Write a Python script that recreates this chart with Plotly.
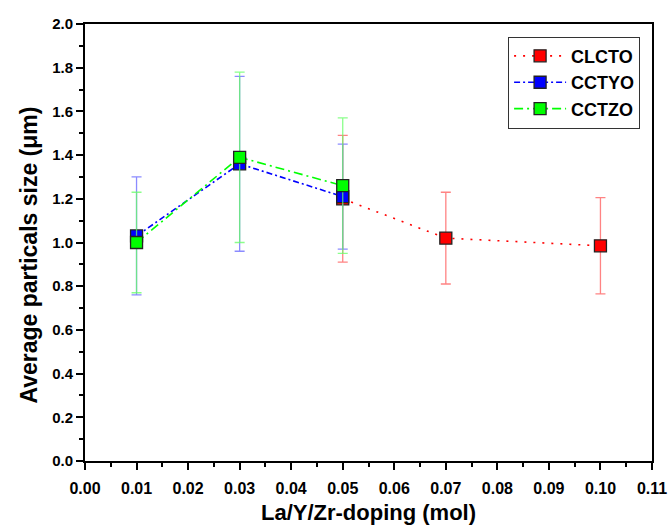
import plotly.graph_objects as go

# Doping level (mol) and average particle size (um) with error bars
x_clcto = [0.05, 0.07, 0.10]
y_clcto = [1.20, 1.02, 0.985]
err_clcto = [0.29, 0.21, 0.22]

x_cctyo = [0.01, 0.03, 0.05]
y_cctyo = [1.03, 1.36, 1.21]
err_cctyo = [0.27, 0.40, 0.24]

x_cctzo = [0.01, 0.03, 0.05]
y_cctzo = [1.00, 1.39, 1.26]
err_cctzo = [0.23, 0.39, 0.31]

x_ticks = [i / 100 for i in range(0, 12)]
x_ticklabels = [f"{v:.2f}" for v in x_ticks]
y_ticks = [i / 10 for i in range(0, 21, 2)]
y_ticklabels = [f"{v:.1f}" for v in y_ticks]

FONT = "Liberation Sans, Arial, sans-serif"

series = [
    ("CLCTO", x_clcto, y_clcto, err_clcto, "#ff0000", "rgba(255,90,90,0.75)", "2px,7px"),
    ("CCTYO", x_cctyo, y_cctyo, err_cctyo, "#0000ff", "rgba(100,100,255,0.75)", "6px,3px,2px,3px"),
    ("CCTZO", x_cctzo, y_cctzo, err_cctzo, "#00ff00", "rgba(100,255,100,0.75)", "9px,4px,2px,4px"),
]

fig = go.Figure()
for name, xs, ys, es, color, ecolor, dash in series:
    fig.add_trace(go.Scatter(
        x=xs, y=ys, name=name, mode="lines+markers",
        line=dict(color=color, width=1.6, dash=dash),
        marker=dict(symbol="square", size=12, color=color,
                    line=dict(color="#222222", width=1.3)),
        error_y=dict(type="data", array=es, visible=True,
                     color=ecolor, thickness=1.3, width=5),
    ))

axis_common = dict(
    showline=True, linecolor="black", linewidth=2, mirror=True,
    ticks="outside", ticklen=7, tickwidth=1.5, tickcolor="black",
    showgrid=False, zeroline=False, automargin=False,
)

fig.update_layout(
    width=668, height=529,
    margin=dict(l=85, r=16, t=24, b=68),
    paper_bgcolor="white", plot_bgcolor="white",
    font=dict(family=FONT, color="black"),
    showlegend=True,
    legend=dict(
        x=0.979, xanchor="right", y=0.971, yanchor="top",
        bordercolor="#333333", borderwidth=1, bgcolor="white",
        font=dict(family=FONT, size=18, weight="bold", color="black"),
        itemwidth=52, tracegroupgap=0,
    ),
    xaxis=dict(
        range=[0, 0.11], tickvals=x_ticks, ticktext=x_ticklabels,
        tickfont=dict(family=FONT, size=16, weight="bold"),
        minor=dict(ticks="outside", ticklen=4, tickwidth=1.5, dtick=0.005, tickcolor="black"),
        ticklabelstandoff=5,
        title=dict(text="La/Y/Zr-doping (mol)", standoff=8,
                   font=dict(family=FONT, size=22, weight="bold")),
        **axis_common,
    ),
    yaxis=dict(
        range=[0, 2.0], tickvals=y_ticks, ticktext=y_ticklabels,
        tickfont=dict(family=FONT, size=15, weight="bold"),
        minor=dict(ticks="outside", ticklen=4, tickwidth=1.5, dtick=0.1, tickcolor="black"),
        **axis_common,
    ),
    annotations=[dict(
        text="Average particals size (\u03bcm)", textangle=-90,
        xref="paper", yref="paper", x=-0.098, y=0.471,
        xanchor="center", yanchor="middle", showarrow=False,
        font=dict(family=FONT, size=23, weight="bold", color="black"),
    )],
)

fig.write_html("out.html")
